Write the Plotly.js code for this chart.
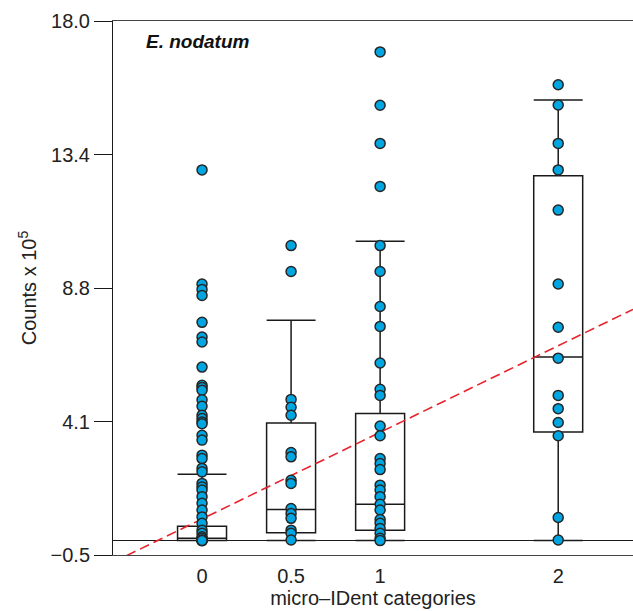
<!DOCTYPE html>
<html>
<head>
<meta charset="utf-8">
<script src="https://cdn.plot.ly/plotly-3.0.1.min.js"></script>
<style>html,body{margin:0;padding:0;background:#fff;}#chart{width:633px;height:611px;}</style>
</head>
<body>
<div id="chart"></div>
<script>
// Category positions and labels
var categories = [0, 0.5, 1, 2];
var categoryLabels = ["0", "0.5", "1", "2"];

// Box statistics per category
var q1 = [0.0, 0.27, 0.36, 3.76];
var medians = [0.08, 1.08, 1.26, 6.36];
var q3 = [0.50, 4.07, 4.40, 12.64];
var lowerFence = [0.0, 0.0, 0.0, 0.0];
var upperFence = [2.30, 7.63, 10.37, 15.26];

// Individual counts per category
var pointsCat0 = [12.84, 8.89, 8.70, 8.49, 7.56, 7.05, 6.88, 6.01, 5.38, 5.30, 5.21, 4.88, 4.65,
  4.34, 4.23, 4.11, 4.05, 3.65, 3.48, 2.96, 2.84, 2.50, 2.38, 1.98, 1.86, 1.75, 1.52, 1.29,
  1.06, 0.82, 0.60, 0.36, 0.25, 0.13, 0.08, 0.02, 0.0, 0.0, 0.0];
var pointsCat05 = [10.22, 9.32, 4.89, 4.62, 4.34, 3.05, 2.90, 2.09, 1.98, 1.11, 0.94, 0.77,
  0.36, 0.25, 0.02];
var pointsCat1 = [16.93, 15.08, 13.76, 12.27, 10.22, 9.32, 8.11, 7.42, 6.15, 5.24, 5.03, 3.97,
  3.63, 2.84, 2.67, 2.46, 1.92, 1.75, 1.52, 1.26, 1.06, 0.73, 0.60, 0.42, 0.25, 0.08, 0.0];
var pointsCat2 = [15.79, 15.09, 13.76, 12.84, 11.45, 8.89, 7.39, 6.32, 5.03, 4.57, 4.09, 3.63,
  0.80, 0.02];

// Regression line (dashed)
var trendIntercept = 0.75;
var trendSlope = 3.0;

// Y tick values and labels
var yTickVals = [-0.5, 4.125, 8.75, 13.375, 18.0];
var yTickText = ["\u22120.5", "4.1", "8.8", "13.4", "18.0"];

var xRange = [-0.5, 2.42];

var allPoints = [pointsCat0, pointsCat05, pointsCat1, pointsCat2];
var px = [], py = [];
allPoints.forEach(function (arr, i) {
  arr.forEach(function (v) { px.push(categories[i]); py.push(v); });
});

var boxTrace = {
  type: 'box',
  x: categories,
  q1: q1, median: medians, q3: q3,
  lowerfence: lowerFence, upperfence: upperFence,
  boxpoints: false,
  width: 0.275,
  whiskerwidth: 1,
  fillcolor: 'rgba(0,0,0,0)',
  line: {color: '#1a1a1a', width: 1.5},
  hoverinfo: 'skip',
  showlegend: false
};

var pointTrace = {
  type: 'scatter', mode: 'markers',
  x: px, y: py,
  marker: {size: 10, color: '#00a6e2', line: {color: '#262626', width: 1.5}},
  showlegend: false, hoverinfo: 'skip'
};

var trendX = [xRange[0], xRange[1]];
var trendTrace = {
  type: 'scatter', mode: 'lines',
  x: trendX,
  y: trendX.map(function (x) { return trendIntercept + trendSlope * x; }),
  line: {color: '#e8232b', width: 1.6, dash: '10px,5px'},
  showlegend: false, hoverinfo: 'skip'
};

var fontFam = '"Liberation Sans", Arial, Helvetica, sans-serif';

var layout = {
  width: 633, height: 611,
  margin: {l: 113, r: 0, t: 21, b: 56},
  paper_bgcolor: '#fff', plot_bgcolor: '#fff',
  font: {family: fontFam, size: 20, color: '#222'},
  xaxis: {
    range: xRange,
    tickvals: categories, ticktext: categoryLabels,
    showgrid: false, zeroline: false,
    showline: true, linecolor: '#444', linewidth: 1, mirror: true,
    ticks: '', ticklabelstandoff: 3,
    tickfont: {size: 20, color: '#222'},
    title: {text: 'micro\u2013IDent categories', font: {size: 20, color: '#222'}, standoff: 3}
  },
  yaxis: {
    range: [-0.5, 18.0],
    tickvals: yTickVals, ticktext: yTickText,
    showgrid: false,
    zeroline: true, zerolinecolor: '#1a1a1a', zerolinewidth: 1,
    showline: true, linecolor: '#1a1a1a', linewidth: 1,
    ticks: 'outside', ticklen: 18, tickcolor: '#1a1a1a', tickwidth: 1,
    tickfont: {size: 20, color: '#222'},
    title: {text: 'Counts x 10<sup>5</sup>', font: {size: 20, color: '#222'}, standoff: 8}
  },
  annotations: [{
    xref: 'paper', yref: 'paper', x: 0.06, y: 0.985, xanchor: 'left', yanchor: 'top',
    text: '<b><i>E. nodatum</i></b>', showarrow: false,
    font: {size: 19, color: '#111', family: fontFam}
  }]
};

Plotly.newPlot('chart', [boxTrace, trendTrace, pointTrace], layout, {staticPlot: true});
</script>
</body>
</html>
